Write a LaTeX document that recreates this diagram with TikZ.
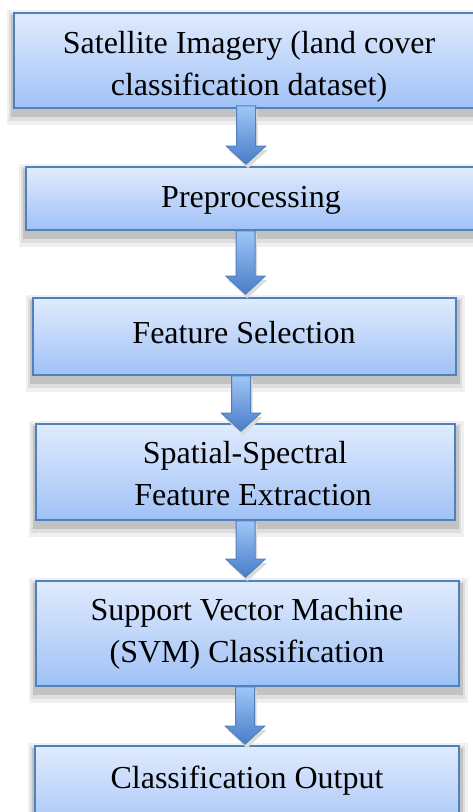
\documentclass[tikz,border=0pt]{standalone}
\usepackage{fontspec}
\setmainfont{Liberation Serif}
\usetikzlibrary{calc}
\definecolor{boxtop}{RGB}{224,235,253}
\definecolor{boxbot}{RGB}{160,193,246}
\definecolor{boxline}{RGB}{79,129,189}
\definecolor{arrtop}{RGB}{160,198,247}
\definecolor{arrbot}{RGB}{72,125,200}
\pgfdeclarelayer{bg}
\pgfsetlayers{bg,main}
\tikzset{
  flowbox/.style={rectangle, draw=boxline, line width=1.6pt, top color=boxtop, bottom color=boxbot, inner sep=0pt},
  flowtext/.style={font=\fontsize{32}{41.5}\selectfont, align=center, anchor=base, inner sep=0pt, text=black},
  arrowshape/.style={draw=boxline, line width=1pt, top color=arrtop, bottom color=arrbot},
  darkshadow/.style={fill=black!24},
  midshadow/.style={fill=black!13},
  lightshadow/.style={fill=black!6},
  arrshadow/.style={fill=black!14},
}
% #1 box name
\newcommand\boxshadow[1]{%
  \begin{pgfonlayer}{bg}
    \fill[lightshadow] ([xshift=-6pt,yshift=2pt]#1.north west) rectangle ([xshift=8pt,yshift=-16pt]#1.south east);
    \fill[midshadow] ([xshift=-4pt,yshift=-1pt]#1.north west) rectangle ([xshift=5pt,yshift=-12pt]#1.south east);
    \fill[darkshadow] ([xshift=-2pt,yshift=-3pt]#1.north west) rectangle ([xshift=3pt,yshift=-8pt]#1.south east);
  \end{pgfonlayer}}
% #1 from node, #2 to node, #3 x centre (pt), #4 top offset, #5 tip offset
\newcommand\flowarrow[5]{%
  \fill[arrshadow] let \p1=(#1.south), \p2=(#2.north) in
    ({#3pt-7.5pt},{\y1+#4pt-3pt}) -- ({#3pt+11.5pt},{\y1+#4pt-3pt}) -- ({#3pt+11.5pt},{\y2+#5pt+14pt}) --
    ({#3pt+21.5pt},{\y2+#5pt+14pt}) -- ({#3pt+2pt},{\y2+#5pt-4pt}) -- ({#3pt-17.5pt},{\y2+#5pt+14pt}) --
    ({#3pt-7.5pt},{\y2+#5pt+14pt}) -- cycle;
  \draw[arrowshape] let \p1=(#1.south), \p2=(#2.north) in
    ({#3pt-9.5pt},{\y1+#4pt}) -- ({#3pt+9.5pt},{\y1+#4pt}) -- ({#3pt+9.5pt},{\y2+#5pt+18pt}) --
    ({#3pt+19.5pt},{\y2+#5pt+18pt}) -- ({#3pt},{\y2+#5pt}) -- ({#3pt-19.5pt},{\y2+#5pt+18pt}) --
    ({#3pt-9.5pt},{\y2+#5pt+18pt}) -- cycle;}
\begin{document}
\begin{tikzpicture}[x=1pt,y=1pt]
\useasboundingbox (0,0) rectangle (473,-812);
\begin{pgfonlayer}{bg}
\fill[white] (0,0) rectangle (473,-812);
\end{pgfonlayer}
\clip (0,0) rectangle (473,-812);
% boxes
\node[flowbox, minimum width=466pt, minimum height=95pt] (b1) at (247,-60.5) {};
\node[flowbox, minimum width=454pt, minimum height=63pt] (b2) at (253,-198.5) {};
\node[flowbox, minimum width=423pt, minimum height=77pt] (b3) at (244.5,-336.5) {};
\node[flowbox, minimum width=419pt, minimum height=96pt] (b4) at (245.5,-472) {};
\node[flowbox, minimum width=423pt, minimum height=105pt] (b5) at (247.5,-633.5) {};
\node[flowbox, minimum width=424pt, minimum height=94pt] (b6) at (247,-793) {};
\boxshadow{b1}\boxshadow{b2}\boxshadow{b3}\boxshadow{b4}\boxshadow{b5}\boxshadow{b6}
% texts (anchor = baseline of the last line)
\node[flowtext] (t1) at (249,-95) {Satellite Imagery (land cover\\classification dataset)};
\node[flowtext] (t2) at (251,-207) {Preprocessing};
\node[flowtext] (t3) at (244,-343) {Feature Selection};
\node[flowtext] (t4) at (245,-505) {Spatial-Spectral\\\hspace*{16pt}Feature Extraction};
\node[flowtext] (t5) at (247,-662) {Support Vector Machine\\(SVM) Classification};
\node[flowtext] (t6) at (247,-788) {Classification Output};
% arrows
\flowarrow{b1}{b2}{246}{3}{2}
\flowarrow{b2}{b3}{245.5}{0}{3}
\flowarrow{b3}{b4}{241}{0}{-8}
\flowarrow{b4}{b5}{245.5}{0}{3}
\flowarrow{b5}{b6}{245}{0}{1}
\end{tikzpicture}
\end{document}
